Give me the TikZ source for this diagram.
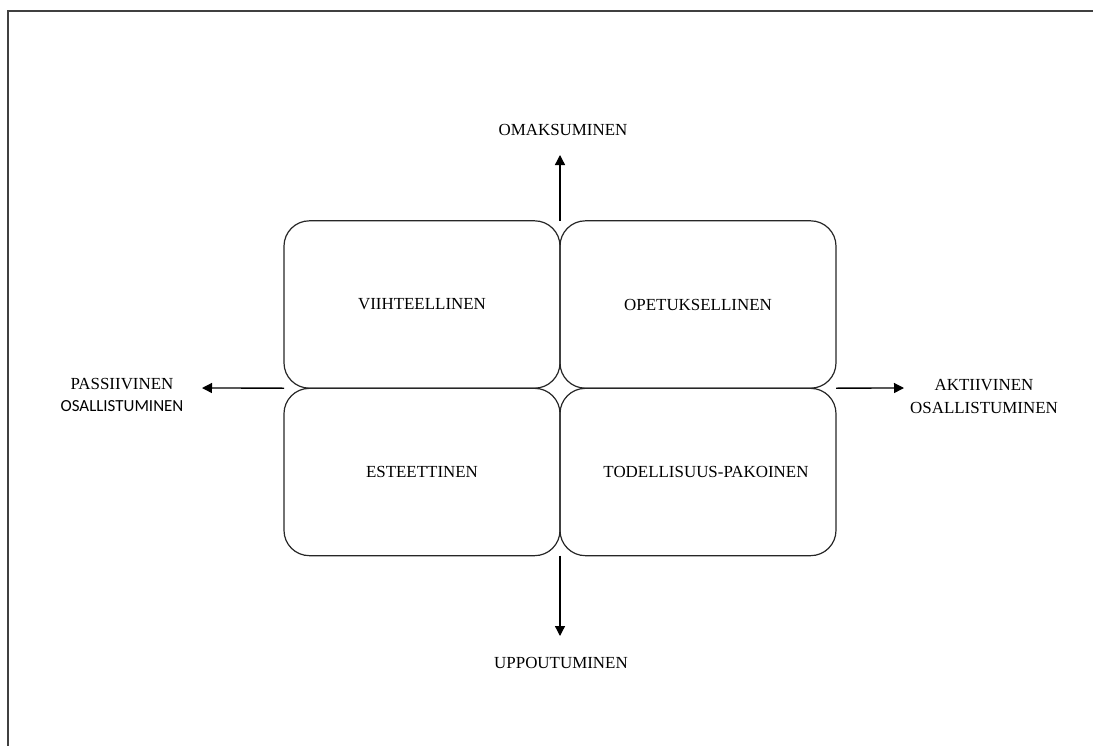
\documentclass[tikz,border=0pt]{standalone}
\usepackage{fontspec}
\setmainfont{Liberation Serif}
\newfontfamily\labelsans{Carlito}
\usetikzlibrary{arrows.meta,positioning}

\begin{document}
\begin{tikzpicture}[x=0.75pt, y=-0.75pt, >={Triangle[length=7.5pt,width=7.5pt]},
    quad/.style={draw=black!85, line width=0.9pt, rounded corners=19pt,
        minimum width=207pt, minimum height=125.5pt, inner sep=0pt, outer sep=0pt},
    axis/.style={->, line width=1pt},
    lbl/.style={align=center, inner sep=0pt}]
    \useasboundingbox (0,0) rectangle (1093,746);
    \fontsize{12.7}{16.5}\selectfont

    % frame
    \draw[black!75, line width=1.3pt] (8,746) -- (8,11) -- (1093,11);

    % quadrants
    \node[quad] (vi) at (422,304.5) {VIIHTEELLINEN};
    \node[quad] (op) at (698,304.5) {OPETUKSELLINEN};
    \node[quad] (es) at (422,472) {ESTEETTINEN};
    \node[quad] (to) at (698,472) {\hspace*{12pt}TODELLISUUS-PAKOINEN};

    % axis ends
    \coordinate (upTip) at (560,155);
    \coordinate (downTip) at (560,636);
    \coordinate (leftTip) at (202,388);
    \coordinate (rightTip) at (904,388);

    \draw[axis] (vi.north east) -- (upTip);
    \draw[axis] (es.south east) -- (downTip);
    \draw[axis] (vi.south west) -- (leftTip);
    \draw[axis] (op.south east) -- (rightTip);

    % axis labels
    \node[lbl] (omak) at (563,130) {OMAKSUMINEN};
    \node[lbl] (uppo) at (561,663) {UPPOUTUMINEN};
    \node[lbl] (pass) at (122,384) {PASSIIVINEN};
    \node[lbl, below=8pt of pass] (passos) {\labelsans OSALLISTUMINEN};
    \node[lbl] (akti) at (984,385) {AKTIIVINEN};
    \node[lbl, below=8pt of akti] (aktios) {OSALLISTUMINEN};

\end{tikzpicture}
\end{document}
